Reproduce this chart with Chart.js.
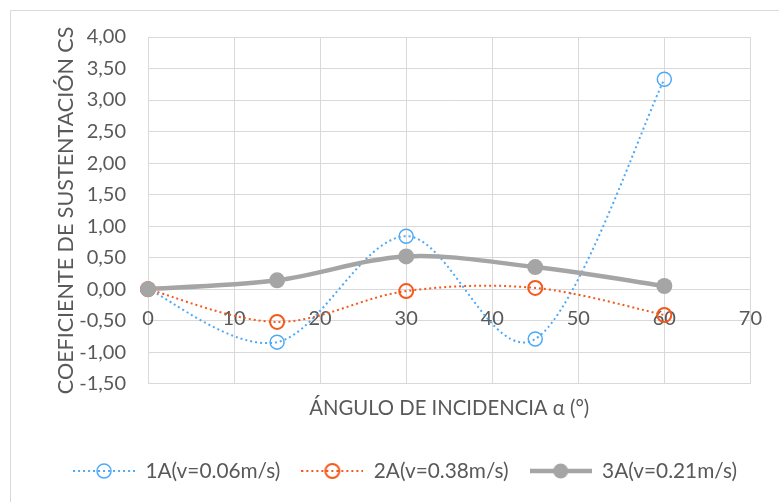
<!DOCTYPE html>
<html>
<head>
<meta charset="utf-8">
<script src="https://cdn.jsdelivr.net/npm/chart.js@4.4.1/dist/chart.umd.min.js"></script>
<style>
  html, body { margin: 0; padding: 0; background: #ffffff; }
  #wrap { width: 779px; height: 502px; position: relative; }
</style>
</head>
<body>
<div id="wrap"><canvas id="chart" width="779" height="502"></canvas></div>
<script>
// Angle of incidence (degrees)
const angles = [0, 15, 30, 45, 60];
// Lift coefficient for each test
const cs1A = [0, -0.84, 0.84, -0.79, 3.33];
const cs2A = [0, -0.52, -0.03, 0.02, -0.41];
const cs3A = [0, 0.14, 0.52, 0.35, 0.05];
const seriesNames = ['1A(v=0.06m/s)', '2A(v=0.38m/s)', '3A(v=0.21m/s)'];
// Axis ticks
const xTickValues = [0, 10, 20, 30, 40, 50, 60, 70];
const yTickValues = [-1.5, -1, -0.5, 0, 0.5, 1, 1.5, 2, 2.5, 3, 3.5, 4];

const FONT = 'Lato, "Open Sans", "DejaVu Sans", sans-serif';
const TEXT = '#595959';
const GRID = '#d9d9d9';
const BLUE = '#4ea9f6';
const ORANGE = '#f4591d';
const GREY = '#a5a5a5';

const toPoints = (ys) => angles.map((a, i) => ({ x: a, y: ys[i] }));

// Legend swatch: a short line with the series marker in the middle
const SW = 62;
function swatch(color, dotted, lineW, radius, filled, markerW) {
  const c = document.createElement('canvas');
  c.width = SW; c.height = 20;
  const g = c.getContext('2d');
  g.strokeStyle = color;
  g.lineWidth = lineW;
  if (dotted) g.setLineDash([2, 3]);
  g.beginPath(); g.moveTo(0, 10); g.lineTo(SW, 10); g.stroke();
  g.setLineDash([]);
  g.beginPath(); g.arc(SW / 2, 10, radius, 0, Math.PI * 2);
  if (filled) { g.fillStyle = color; g.fill(); }
  else { g.lineWidth = markerW; g.stroke(); }
  return c;
}
const swatches = [
  swatch(BLUE, true, 2, 7, false, 1.5),
  swatch(ORANGE, true, 2, 7, false, 2),
  swatch(GREY, false, 4.5, 7.5, true, 0)
];

// White background and the outer frame lines
const framePlugin = {
  id: 'frame',
  beforeDraw(chart) {
    const ctx = chart.ctx;
    ctx.save();
    ctx.fillStyle = '#ffffff';
    ctx.fillRect(0, 0, chart.width, chart.height);
    ctx.strokeStyle = GRID;
    ctx.lineWidth = 1;
    ctx.beginPath();
    ctx.moveTo(10.5, chart.height);
    ctx.lineTo(10.5, 10.5);
    ctx.lineTo(chart.width, 10.5);
    ctx.stroke();
    ctx.restore();
  }
};

// Spreadsheet-style smoothing: uniform Catmull-Rom Bezier handles (1/6 of the
// neighbour-to-neighbour vector) computed from the points' pixel positions.
const smoothPlugin = {
  id: 'uniformSmooth',
  beforeDatasetDraw(chart, args) {
    const meta = args.meta;
    const pts = meta.data;
    const n = pts.length;
    for (let i = 0; i < n; i++) {
      const p = pts[i];
      const prev = pts[Math.max(i - 1, 0)];
      const next = pts[Math.min(i + 1, n - 1)];
      const dx = (next.x - prev.x) / 6;
      const dy = (next.y - prev.y) / 6;
      p.cp1x = p.x - dx; p.cp1y = p.y - dy;
      p.cp2x = p.x + dx; p.cp2y = p.y + dy;
    }
    meta.dataset._pointsUpdated = true;
    meta.dataset._path = undefined;
  }
};

const tickFont = { family: FONT, size: 20, weight: 'normal' };
const yTitleFont = { family: FONT, size: 21.5, weight: 'normal' };
const xTitleFont = { family: FONT, size: 20.3, weight: 'normal' };
const legendFont = { family: FONT, size: 20.8, weight: 'normal' };

new Chart(document.getElementById('chart'), {
  type: 'line',
  data: {
    datasets: [
      {
        label: seriesNames[0], data: toPoints(cs1A), order: 2,
        borderColor: BLUE, borderWidth: 2, borderDash: [2, 3], tension: 0.5,
        pointStyle: 'circle', pointRadius: 7, pointBorderWidth: 1.5,
        pointBorderColor: BLUE, pointBackgroundColor: 'rgba(0,0,0,0)', clip: false
      },
      {
        label: seriesNames[1], data: toPoints(cs2A), order: 1,
        borderColor: ORANGE, borderWidth: 2, borderDash: [2, 3], tension: 0.5,
        pointStyle: 'circle', pointRadius: 7, pointBorderWidth: 2,
        pointBorderColor: ORANGE, pointBackgroundColor: 'rgba(0,0,0,0)', clip: false
      },
      {
        label: seriesNames[2], data: toPoints(cs3A), order: 0,
        borderColor: GREY, borderWidth: 4.5, tension: 0.5,
        pointStyle: 'circle', pointRadius: 8, pointBorderWidth: 0,
        pointBorderColor: GREY, pointBackgroundColor: GREY, clip: false
      }
    ]
  },
  options: {
    responsive: false,
    animation: false,
    devicePixelRatio: 1,
    layout: { padding: { left: 31, right: 0, top: 37, bottom: 10.6 } },
    scales: {
      x: {
        type: 'linear', min: 0, max: 70,
        position: { y: 0 },
        afterBuildTicks: (s) => { s.ticks = xTickValues.map(v => ({ value: v })); },
        grid: { color: GRID, lineWidth: 1, drawTicks: false },
        border: { display: false },
        ticks: { color: TEXT, font: tickFont, padding: 17, maxRotation: 0, autoSkip: false,
                 callback: (v) => String(v) }
      },
      y: {
        type: 'linear', min: -1.5, max: 4,
        afterBuildTicks: (s) => { s.ticks = yTickValues.map(v => ({ value: v })); },
        afterFit: (s) => { s.width = 117; },
        grid: { color: GRID, lineWidth: 1, drawTicks: false },
        border: { display: false },
        ticks: { color: TEXT, font: tickFont, padding: 22, autoSkip: false,
                 callback: (v) => v.toFixed(2).replace('.', ',') },
        title: { display: true, text: 'COEFICIENTE DE SUSTENTACIÓN CS', color: TEXT,
                 font: yTitleFont, padding: { top: 22, bottom: 0 } }
      },
      // empty right-hand margin beside the plot
      yRight: {
        type: 'linear', position: 'right', min: -1.5, max: 4,
        afterFit: (s) => { s.width = 26; },
        grid: { display: false, drawOnChartArea: false },
        border: { display: false },
        ticks: { display: false }
      }
    },
    plugins: {
      title: {
        display: true, position: 'bottom', fullSize: false, weight: 500,
        text: 'ÁNGULO DE INCIDENCIA α (°)', color: TEXT, font: xTitleFont,
        padding: { top: 12.8, bottom: 18.7 }
      },
      legend: {
        position: 'bottom',
        labels: {
          usePointStyle: true, pointStyleWidth: SW, padding: 21,
          color: TEXT, font: legendFont,
          generateLabels: (chart) => chart.data.datasets.map((ds, i) => ({
            text: ds.label, pointStyle: swatches[i], rotation: 0,
            fillStyle: 'rgba(0,0,0,0)', strokeStyle: 'rgba(0,0,0,0)', lineWidth: 0,
            fontColor: TEXT, hidden: !chart.isDatasetVisible(i), datasetIndex: i
          }))
        }
      },
      tooltip: { enabled: false }
    }
  },
  plugins: [framePlugin, smoothPlugin]
});
</script>
</body>
</html>
